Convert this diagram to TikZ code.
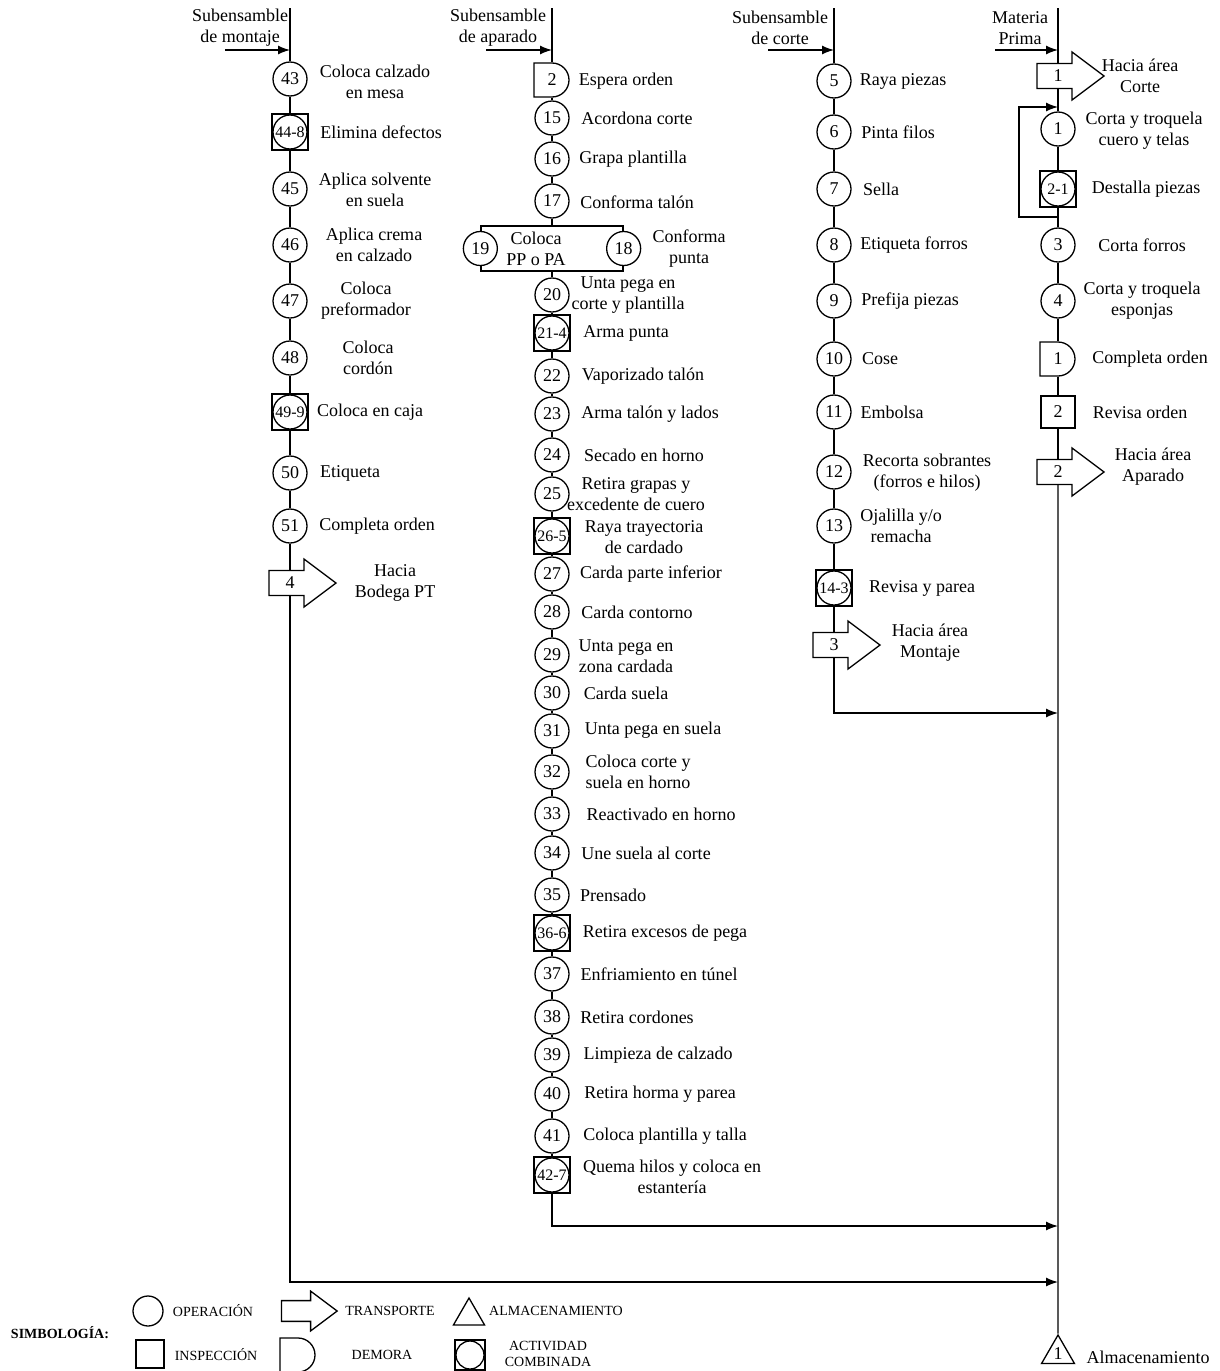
\documentclass[tikz,border=0pt]{standalone}
\usepackage{fontspec}
\setmainfont{Liberation Serif}
\usetikzlibrary{arrows.meta}
\usetikzlibrary{calc}
\usetikzlibrary{shapes.geometric}

\newcommand{\txtsize}{\fontsize{18}{21}\selectfont}
\newcommand{\numsize}{\fontsize{18}{20}\selectfont}
\newcommand{\combsize}{\fontsize{16}{17}\selectfont}
\newcommand{\legsize}{\fontsize{14}{15}\selectfont}

% outline of a transport arrow around a (hidden) node
\newcommand{\transport}[2][1]{\draw[shift={(#2.center)},scale=#1] (-21,12.5) -- (14,12.5) -- (14,24) -- (46,0) -- (14,-24) -- (14,-12.5) -- (-21,-12.5) -- cycle;}

\tikzset{
  op/.style={circle,draw,fill=white,minimum size=34pt,inner sep=0pt,font=\numsize},
  comb/.style={rectangle,draw,minimum size=#1,inner sep=0pt,font=\combsize,
    path picture={\draw (path picture bounding box.center) circle[radius=#1/2-1];}},
  comb/.default=36pt,
  insp/.style={rectangle,draw,minimum width=34pt,minimum height=32pt,inner sep=0pt,font=\numsize},
  delay/.style={minimum width=38pt,minimum height=35.4pt,inner sep=0pt,font=\numsize,
    path picture={\draw ($(path picture bounding box.center)+(-18,17)$) -- ++(18,0)
      arc[start angle=90,end angle=-90,radius=17] -- ++(-18,0) -- cycle;}},
  trans/.style={minimum width=30pt,minimum height=25pt,inner sep=0pt,font=\numsize},
  store/.style={regular polygon,regular polygon sides=3,draw,minimum size=38pt,inner sep=0pt,font=\numsize},
  txt/.style={align=center,font=\txtsize,inner sep=0pt},
  legtxt/.style={align=center,font=\legsize,inner sep=0pt},
  flow/.style={-{Latex[length=12pt,width=9pt]}}
}

\begin{document}
\begin{tikzpicture}[x=1pt,y=1pt,line width=1.3pt]
\useasboundingbox (0,0) rectangle (1219,-1371);

% headers
\node[txt] (hM) at (240,-28) {Subensamble\\de montaje};
\node[txt] (hA) at (498,-28) {Subensamble\\de aparado};
\node[txt] (hC) at (780,-28) {Subensamble\\de corte};
\node[txt] (hP) at (1020,-28) {Materia\\Prima};
\coordinate (topM) at (290,-8);
\coordinate (topA) at (552,-8);
\coordinate (topC) at (834,-8);
\coordinate (topP) at (1058,-8);
\coordinate (inM) at (225,-50);
\coordinate (inA) at (486,-50);
\coordinate (inC) at (768,-50);
\coordinate (inP) at (995,-50);
\coordinate (jinM) at (290,-50);
\coordinate (jinA) at (552,-50);
\coordinate (jinC) at (834,-50);
\coordinate (jinP) at (1058,-50);

% subensamble de montaje
\node[op] (n43) at (290,-79) {43};
\node[comb] (n44) at (290,-132) {44-8};
\node[op] (n45) at (290,-189) {45};
\node[op] (n46) at (290,-245) {46};
\node[op] (n47) at (290,-301) {47};
\node[op] (n48) at (290,-358) {48};
\node[comb] (n49) at (290,-412) {49-9};
\node[op] (n50) at (290,-473) {50};
\node[op] (n51) at (290,-526) {51};
\node[trans] (t4) at (290,-583) {4};
\transport{t4}
\node[txt] (x43) at (375,-82) {Coloca calzado\\en mesa};
\node[txt] (x44) at (381,-132) {Elimina defectos};
\node[txt] (x45) at (375,-190) {Aplica solvente\\en suela};
\node[txt] (x46) at (374,-245) {Aplica crema\\en calzado};
\node[txt] (x47) at (366,-301) {Coloca\\preformador};
\node[txt] (x48) at (368,-358) {Coloca\\cordón};
\node[txt] (x49) at (370,-412) {Coloca en caja};
\node[txt] (x50) at (350,-473) {Etiqueta};
\node[txt] (x51) at (377,-526) {Completa orden};
\node[txt] (x52) at (395,-583) {Hacia\\Bodega PT};

% subensamble de aparado
\node[delay] (d2) at (552,-80) {2};
\node[op] (n15) at (552,-118) {15};
\node[op] (n16) at (552,-159) {16};
\node[op] (n17) at (552,-201) {17};
\node[rectangle,draw,minimum width=142pt,minimum height=45pt,inner sep=0pt] (par) at (552,-248.5) {};
\node[op] (n19) at (par.west) {19};
\node[op] (n18) at (par.east) {18};
\node[op] (n20) at (552,-295) {20};
\node[comb] (n21) at (552,-333) {21-4};
\node[op] (n22) at (552,-376) {22};
\node[op] (n23) at (552,-414) {23};
\node[op] (n24) at (552,-455) {24};
\node[op] (n25) at (552,-494) {25};
\node[comb] (n26) at (552,-536) {26-5};
\node[op] (n27) at (552,-574) {27};
\node[op] (n28) at (552,-612) {28};
\node[op] (n29) at (552,-655) {29};
\node[op] (n30) at (552,-693) {30};
\node[op] (n31) at (552,-731) {31};
\node[op] (n32) at (552,-772) {32};
\node[op] (n33) at (552,-814) {33};
\node[op] (n34) at (552,-853) {34};
\node[op] (n35) at (552,-895) {35};
\node[comb] (n36) at (552,-933) {36-6};
\node[op] (n37) at (552,-974) {37};
\node[op] (n38) at (552,-1017) {38};
\node[op] (n39) at (552,-1055) {39};
\node[op] (n40) at (552,-1094) {40};
\node[op] (n41) at (552,-1136) {41};
\node[comb] (n42) at (552,-1175) {42-7};
\node[txt] (xd2) at (626,-81) {Espera orden};
\node[txt] (x15) at (637,-118) {Acordona corte};
\node[txt] (x16) at (633,-159) {Grapa plantilla};
\node[txt] (x17) at (637,-202) {Conforma talón};
\node[txt] (x19) at (536,-249) {Coloca\\PP o PA};
\node[txt] (x18) at (689,-249) {Conforma\\punta};
\node[txt] (x20) at (628,-295) {Unta pega en\\corte y plantilla};
\node[txt] (x21) at (626,-333) {Arma punta};
\node[txt] (x22) at (643,-376) {Vaporizado talón};
\node[txt] (x23) at (650,-414) {Arma talón y lados};
\node[txt] (x24) at (644,-455) {Secado en horno};
\node[txt] (x25) at (636,-494) {Retira grapas y\\excedente de cuero};
\node[txt] (x26) at (644,-537) {Raya trayectoria\\de cardado};
\node[txt] (x27) at (651,-574) {Carda parte inferior};
\node[txt] (x28) at (637,-612) {Carda contorno};
\node[txt] (x29) at (626,-656) {Unta pega en\\zona cardada};
\node[txt] (x30) at (626,-693) {Carda suela};
\node[txt] (x31) at (653,-730) {Unta pega en suela};
\node[txt] (x32) at (638,-772) {Coloca corte y\\suela en horno};
\node[txt] (x33) at (661,-814) {Reactivado en horno};
\node[txt] (x34) at (646,-853) {Une suela al corte};
\node[txt] (x35) at (613,-895) {Prensado};
\node[txt] (x36) at (665,-933) {Retira excesos de pega};
\node[txt] (x37) at (659,-974) {Enfriamiento en túnel};
\node[txt] (x38) at (637,-1017) {Retira cordones};
\node[txt] (x39) at (658,-1055) {Limpieza de calzado};
\node[txt] (x40) at (660,-1094) {Retira horma y parea};
\node[txt] (x41) at (665,-1136) {Coloca plantilla y talla};
\node[txt] (x42) at (672,-1177) {Quema hilos y coloca en\\estantería};

% subensamble de corte
\node[op] (n5) at (834,-81) {5};
\node[op] (n6) at (834,-132) {6};
\node[op] (n7) at (834,-189) {7};
\node[op] (n8) at (834,-245) {8};
\node[op] (n9) at (834,-301) {9};
\node[op] (n10) at (834,-359) {10};
\node[op] (n11) at (834,-412) {11};
\node[op] (n12) at (834,-472) {12};
\node[op] (n13) at (834,-526) {13};
\node[comb] (n14) at (834,-588) {14-3};
\node[trans] (t3) at (834,-645) {3};
\transport{t3}
\node[txt] (x5) at (903,-81) {Raya piezas};
\node[txt] (x6) at (898,-132) {Pinta filos};
\node[txt] (x7) at (881,-189) {Sella};
\node[txt] (x8) at (914,-245) {Etiqueta forros};
\node[txt] (x9) at (910,-301) {Prefija piezas};
\node[txt] (x10) at (880,-359) {Cose};
\node[txt] (x11) at (892,-412) {Embolsa};
\node[txt] (x12) at (927,-473) {Recorta sobrantes\\(forros e hilos)};
\node[txt] (x13) at (901,-526) {Ojalilla y/o\\remacha};
\node[txt] (x14) at (922,-588) {Revisa y parea};
\node[txt] (xt3) at (930,-643) {Hacia área\\Montaje};

% materia prima
\node[trans] (t1) at (1058,-76) {1};
\transport{t1}
\node[op] (p1) at (1058,-129) {1};
\node[comb] (p2) at (1058,-189) {2-1};
\node[op] (p3) at (1058,-245) {3};
\node[op] (p4) at (1058,-301) {4};
\node[delay] (d1) at (1058,-359) {1};
\node[insp] (i2) at (1058,-412) {2};
\node[trans] (t2) at (1058,-472) {2};
\transport{t2}
\node[store] (s1) at (1058,-1354) {1};
\node[txt] (xt1) at (1140,-76) {Hacia área\\Corte};
\node[txt] (xp1) at (1144,-131) {Corta y troquela\\cuero y telas};
\node[txt] (xp2) at (1146,-189) {Destalla piezas};
\node[txt] (xp3) at (1142,-245) {Corta forros};
\node[txt] (xp4) at (1142,-301) {Corta y troquela\\esponjas};
\node[txt] (xd1) at (1150,-359) {Completa orden};
\node[txt] (xi2) at (1140,-412) {Revisa orden};
\node[txt] (xt2) at (1153,-467) {Hacia área\\Aparado};
\node[txt] (xs1) at (1148,-1357) {Almacenamiento};
\coordinate (lpa) at (1058,-217);
\coordinate (lpb) at (1058,-107);
\coordinate (jC) at (1058,-713);
\coordinate (jA) at (1058,-1226);
\coordinate (jM) at (1058,-1282);

% connectors
\foreach \a/\b in {topM/n43,n43/n44,n44/n45,n45/n46,n46/n47,n47/n48,n48/n49,n49/n50,n50/n51,n51/t4,
  topA/d2,d2/n15,n15/n16,n16/n17,n17/par,par/n20,n20/n21,n21/n22,n22/n23,n23/n24,n24/n25,n25/n26,
  n26/n27,n27/n28,n28/n29,n29/n30,n30/n31,n31/n32,n32/n33,n33/n34,n34/n35,n35/n36,n36/n37,n37/n38,
  n38/n39,n39/n40,n40/n41,n41/n42,
  topC/n5,n5/n6,n6/n7,n7/n8,n8/n9,n9/n10,n10/n11,n11/n12,n12/n13,n13/n14,n14/t3,
  topP/t1,t1/p1,p1/p2,p2/p3,p3/p4,p4/d1,d1/i2,i2/t2,t2/s1}
  \draw (\a) -- (\b);
\draw[flow] (inM) -- (jinM);
\draw[flow] (inA) -- (jinA);
\draw[flow] (inC) -- (jinC);
\draw[flow] (inP) -- (jinP);
\draw[flow] (lpa) -- ++(-39,0) |- (lpb);
\draw[flow] (t3) |- (jC);
\draw[flow] (n42) |- (jA);
\draw[flow] (t4) |- (jM);

% simbologia
\node[legtxt,font=\legsize\bfseries] (lg) at (60,-1333) {SIMBOLOGÍA:};
\node[op,minimum size=30pt] (lgop) at (148,-1311) {};
\node[legtxt] (lgopx) at (213,-1311) {OPERACIÓN};
\node[trans] (lgtr) at (299,-1311) {};
\transport[0.83]{lgtr}
\node[legtxt] (lgtrx) at (390,-1311) {TRANSPORTE};
\node[store,minimum size=36pt] (lgst) at (469,-1316) {};
\node[legtxt] (lgstx) at (556,-1311) {ALMACENAMIENTO};
\node[insp,minimum width=28pt,minimum height=28pt] (lgin) at (150,-1354) {};
\node[legtxt] (lginx) at (216,-1355) {INSPECCIÓN};
\node[delay] (lgde) at (298,-1355) {};
\node[legtxt] (lgdex) at (382,-1355) {DEMORA};
\node[comb=30pt] (lgco) at (470,-1355) {};
\node[legtxt,font=\fontsize{14}{16}\selectfont] (lgcox) at (548,-1354) {ACTIVIDAD\\COMBINADA};
\end{tikzpicture}
\end{document}
